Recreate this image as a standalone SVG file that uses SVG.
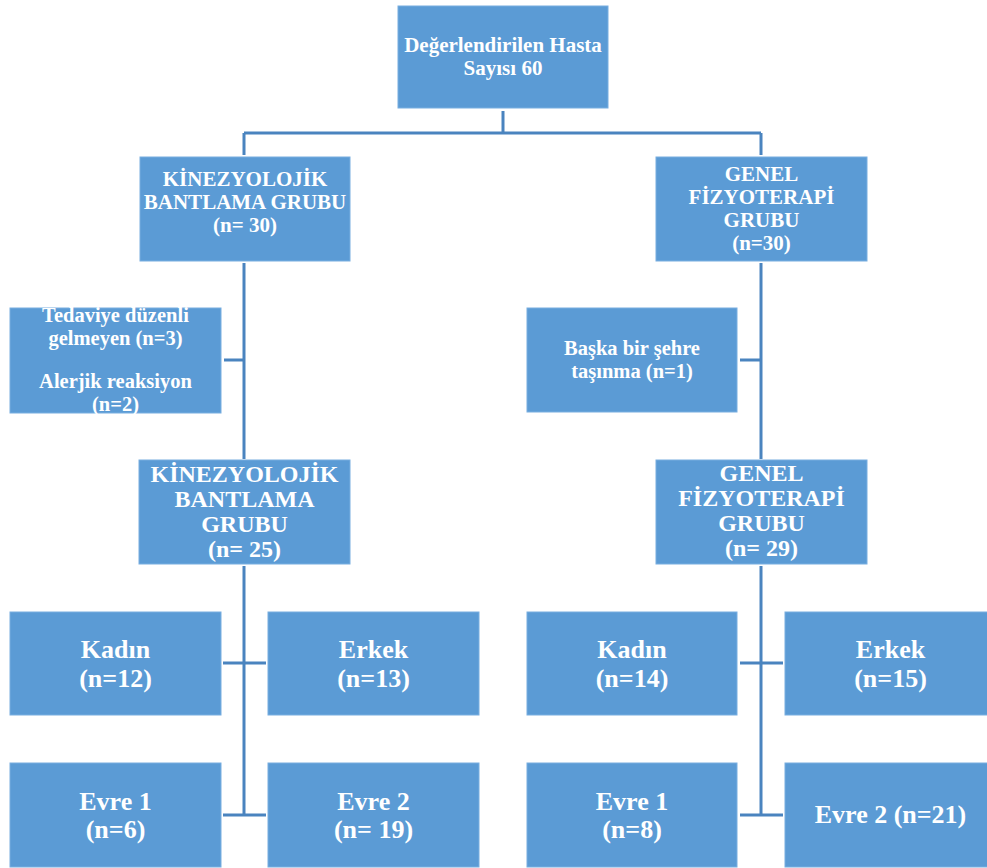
<svg xmlns="http://www.w3.org/2000/svg" width="987" height="868" viewBox="0 0 987 868">
<style>
.box{fill:#5b9bd5;stroke:#78aee0;stroke-width:1}
.t{font-family:"Liberation Serif","Times New Roman",serif;font-weight:bold;fill:#ffffff;text-anchor:middle}
.s20{font-size:20.5px}
.s21{font-size:21px}
.s24{font-size:24px}
.s26{font-size:26px}
.c{fill:none;stroke:#4a84bf;stroke-width:3}
</style>
<rect width="987" height="868" fill="#ffffff"/>
<g id="connectors">
<path class="c" d="M503 111V133M244 133H761M244 133V155M761 133V155"/>
<path class="c" d="M244 263V459M224 360H244"/>
<path class="c" d="M761 263V459M740 360H761"/>
<path class="c" d="M244 566V816M223 663H266M223 815H266"/>
<path class="c" d="M761 566V816M740 663H783M740 815H783"/>
</g>
<g id="n_top"><rect class="box" x="398" y="6" width="210" height="102"/>
<text class="t s21" x="503" y="52">Değerlendirilen Hasta</text>
<text class="t s21" x="503" y="75">Sayısı 60</text></g>
<g id="n_kb1"><rect class="box" x="140" y="157" width="210" height="104"/>
<text class="t s21" x="245" y="186">KİNEZYOLOJİK</text>
<text class="t s21" x="245" y="209">BANTLAMA GRUBU</text>
<text class="t s21" x="245" y="232">(n= 30)</text></g>
<g id="n_gf1"><rect class="box" x="656" y="157" width="211" height="104"/>
<text class="t s21" x="761.5" y="181">GENEL</text>
<text class="t s21" x="761.5" y="204">FİZYOTERAPİ</text>
<text class="t s21" x="761.5" y="227">GRUBU</text>
<text class="t s21" x="761.5" y="250">(n=30)</text></g>
<g id="n_drop1"><rect class="box" x="10" y="308" width="211" height="105"/>
<text class="t s20" x="115.5" y="322">Tedaviye düzenli</text>
<text class="t s20" x="115.5" y="345">gelmeyen (n=3)</text>
<text class="t s20" x="115.5" y="388">Alerjik reaksiyon</text>
<text class="t s20" x="115.5" y="411">(n=2)</text></g>
<g id="n_drop2"><rect class="box" x="527" y="308" width="210" height="104"/>
<text class="t s20" x="632" y="355">Başka bir şehre</text>
<text class="t s20" x="632" y="378">taşınma (n=1)</text></g>
<g id="n_kb2"><rect class="box" x="139" y="460" width="211" height="104"/>
<text class="t s24" x="244.5" y="482">KİNEZYOLOJİK</text>
<text class="t s24" x="244.5" y="507">BANTLAMA</text>
<text class="t s24" x="244.5" y="532">GRUBU</text>
<text class="t s24" x="244.5" y="557">(n= 25)</text></g>
<g id="n_gf2"><rect class="box" x="656" y="460" width="211" height="104"/>
<text class="t s24" x="761.5" y="481">GENEL</text>
<text class="t s24" x="761.5" y="506">FİZYOTERAPİ</text>
<text class="t s24" x="761.5" y="531">GRUBU</text>
<text class="t s24" x="761.5" y="556">(n= 29)</text></g>
<g id="n_kadin1"><rect class="box" x="10" y="612" width="211" height="103"/>
<text class="t s26" x="115.5" y="658">Kadın</text>
<text class="t s26" x="115.5" y="687">(n=12)</text></g>
<g id="n_erkek1"><rect class="box" x="268" y="612" width="211" height="103"/>
<text class="t s26" x="373.5" y="658">Erkek</text>
<text class="t s26" x="373.5" y="687">(n=13)</text></g>
<g id="n_evre1a"><rect class="box" x="10" y="763" width="211" height="104"/>
<text class="t s26" x="115.5" y="810">Evre 1</text>
<text class="t s26" x="115.5" y="838">(n=6)</text></g>
<g id="n_evre2a"><rect class="box" x="268" y="763" width="211" height="104"/>
<text class="t s26" x="373.5" y="810">Evre 2</text>
<text class="t s26" x="373.5" y="838">(n= 19)</text></g>
<g id="n_kadin2"><rect class="box" x="527" y="612" width="210" height="103"/>
<text class="t s26" x="632" y="658">Kadın</text>
<text class="t s26" x="632" y="687">(n=14)</text></g>
<g id="n_erkek2"><rect class="box" x="785" y="612" width="211" height="103"/>
<text class="t s26" x="890.5" y="658">Erkek</text>
<text class="t s26" x="890.5" y="687">(n=15)</text></g>
<g id="n_evre1b"><rect class="box" x="527" y="763" width="210" height="104"/>
<text class="t s26" x="632" y="810">Evre 1</text>
<text class="t s26" x="632" y="838">(n=8)</text></g>
<g id="n_evre2b"><rect class="box" x="785" y="763" width="211" height="104"/>
<text class="t s26" x="890.5" y="823">Evre 2 (n=21)</text></g>
</svg>
